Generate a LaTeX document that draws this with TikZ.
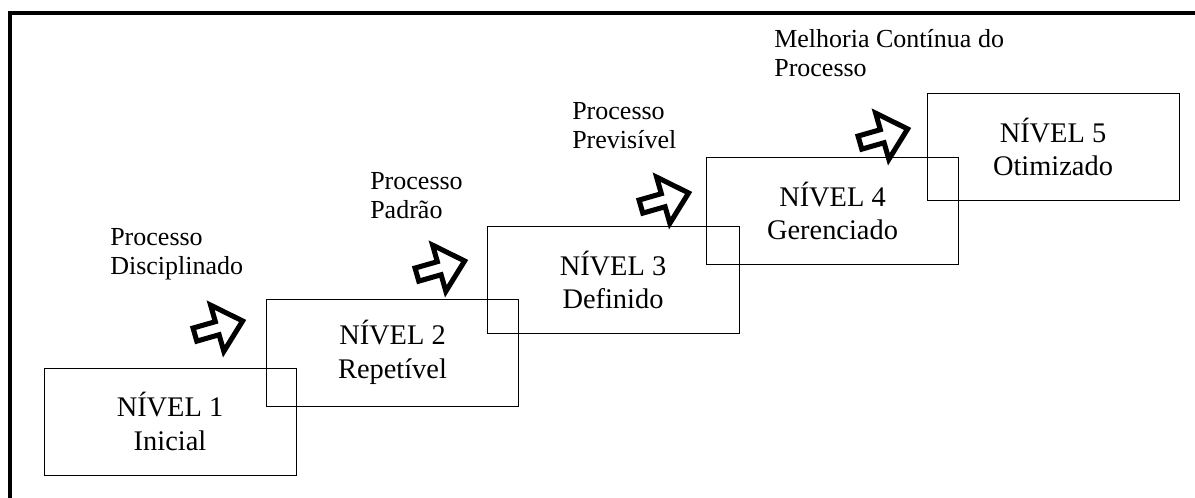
\documentclass[tikz,border=0pt]{standalone}
\usepackage{fontspec}
\setmainfont{Liberation Serif}
\usetikzlibrary{calc}

\tikzset{
    nivel/.style={draw, line width=0.7pt, minimum width=6.3cm, minimum height=2.675cm,
        align=center, inner sep=0pt, font=\fontsize{20.2}{24}\selectfont},
    rotulo/.style={anchor=north west, align=left, inner sep=0pt,
        font=\fontsize{18.5}{20.5}\selectfont},
    seta/.style={line width=3.6pt, line join=miter}
}

\begin{document}
\begin{tikzpicture}
    \useasboundingbox (0,0) rectangle (29.875,12.45);
    \clip (0,0) rectangle (29.875,12.45);

    % moldura
    \draw[line width=3.2pt, line join=miter] (0.25,0) -- (0.25,12.125) -- (29.875,12.125);

    % niveis
    \node[nivel] (n1) at (4.25,1.9125) {NÍVEL 1\\Inicial};
    \node[nivel] (n2) at (9.8125,3.6375) {NÍVEL 2\\Repetível};
    \node[nivel] (n3) at (15.325,5.45) {NÍVEL 3\\Definido};
    \node[nivel] (n4) at (20.8125,7.175) {NÍVEL 4\\Gerenciado};
    \node[nivel] (n5) at (26.325,8.775) {NÍVEL 5\\Otimizado};

    % setas
    \coordinate (a1) at (5.45,4.25);
    \coordinate (a2) at (11.0,5.75);
    \coordinate (a3) at (16.6,7.45);
    \coordinate (a4) at (22.075,9.05);
    \foreach \a in {a1,a2,a3,a4}
        \draw[seta, shift={(\a)}, rotate=16]
            (-0.6,-0.17) -- (-0.02,-0.17) -- (-0.02,-0.6) -- (0.64,0) -- (-0.02,0.6)
            -- (-0.02,0.17) -- (-0.6,0.17) -- cycle;

    % rotulos
    \node[rotulo] (r1) at (2.75,6.75) {Processo\\Disciplinado};
    \node[rotulo] (r2) at (9.25,8.15) {Processo\\Padrão};
    \node[rotulo] (r3) at (14.3,9.9) {Processo\\Previsível};
    \node[rotulo] (r4) at (19.35,11.72) {Melhoria Contínua do\\Processo};
\end{tikzpicture}
\end{document}
